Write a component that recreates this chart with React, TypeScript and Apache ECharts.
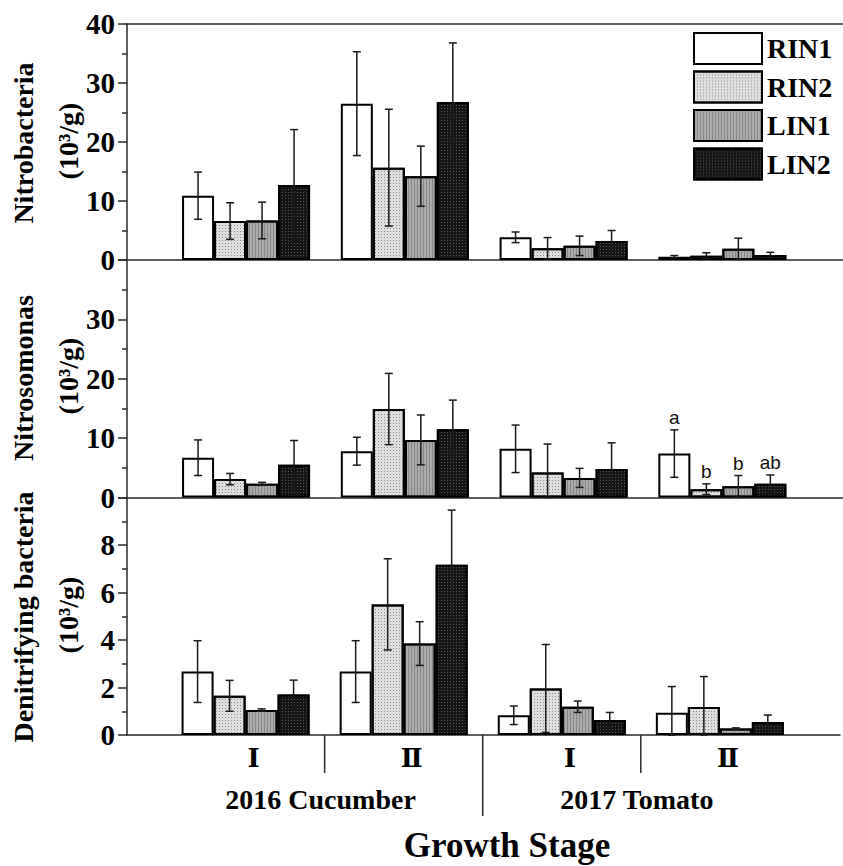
import React, { useEffect, useRef } from 'react';
import * as echarts from 'echarts';

// ---------- data ----------
const treatments = ['RIN1', 'RIN2', 'LIN1', 'LIN2'];
const stagePositions = [1, 2, 3, 4];
const stageLabels = ['Ⅰ', 'Ⅱ', 'Ⅰ', 'Ⅱ'];
const cropLabels = ['2016 Cucumber', '2017 Tomato'];
const cropCenters = [1.5, 3.5];
const separators = [1.5, 2.5, 3.5];

// Nitrobacteria (10^3/g)
const nbRIN1 = [10.9, 26.5, 3.85, 0.56];
const nbRIN2 = [6.6, 15.65, 2.0, 0.73];
const nbLIN1 = [6.7, 14.2, 2.4, 1.9];
const nbLIN2 = [12.7, 26.8, 3.2, 0.85];
const nbRIN1Err = [4.0, 8.8, 0.9, 0.2];
const nbRIN2Err = [3.1, 9.9, 1.8, 0.5];
const nbLIN1Err = [3.1, 5.1, 1.65, 1.8];
const nbLIN2Err = [9.4, 10.0, 1.8, 0.45];

// Nitrosomonas (10^3/g)
const nsRIN1 = [6.7, 7.8, 8.2, 7.4];
const nsRIN2 = [3.1, 14.9, 4.2, 1.4];
const nsLIN1 = [2.3, 9.7, 3.3, 1.9];
const nsLIN2 = [5.5, 11.5, 4.8, 2.3];
const nsRIN1Err = [3.0, 2.35, 4.0, 4.0];
const nsRIN2Err = [0.95, 6.0, 4.8, 0.9];
const nsLIN1Err = [0.25, 4.2, 1.6, 1.8];
const nsLIN2Err = [4.1, 4.9, 4.4, 1.5];
const nsLetters = ['a', 'b', 'b', 'ab']; // significance letters, stage II tomato

// Denitrifying bacteria (10^3/g)
const dnRIN1 = [2.67, 2.67, 0.83, 0.94];
const dnRIN2 = [1.65, 5.5, 1.96, 1.18];
const dnLIN1 = [1.05, 3.85, 1.19, 0.27];
const dnLIN2 = [1.71, 7.17, 0.63, 0.55];
const dnRIN1Err = [1.3, 1.3, 0.39, 1.1];
const dnRIN2Err = [0.65, 1.92, 1.85, 1.28];
const dnLIN1Err = [0.05, 0.92, 0.24, 0.03];
const dnLIN2Err = [0.6, 2.3, 0.32, 0.29];

// ---------- style ----------
const SERIF = "'Liberation Serif', 'Times New Roman', serif";
const SANS = "'Liberation Sans', Arial, sans-serif";
const fills = ['#ffffff', '#dedede', '#ababab', '#151515'];
const decals: any[] = [
  null,
  { symbol: 'rect', symbolSize: 1, dashArrayX: [1, 2], dashArrayY: [1, 2], color: '#8c8c8c' },
  { symbol: 'rect', symbolSize: 1, dashArrayX: [1, 2], dashArrayY: [1, 0], color: '#868686' },
  { symbol: 'rect', symbolSize: 1, dashArrayX: [1, 2], dashArrayY: [1, 2], color: '#555555' },
];
const BAR_W = 32;
const LINE = '#2a2a2a';

const panels = [
  {
    title: 'Nitrobacteria', mean: [nbRIN1, nbRIN2, nbLIN1, nbLIN2], err: [nbRIN1Err, nbRIN2Err, nbLIN1Err, nbLIN2Err],
    max: 40, interval: 10, top: 24, height: 236, showMax: true, cy: 143,
  },
  {
    title: 'Nitrosomonas', mean: [nsRIN1, nsRIN2, nsLIN1, nsLIN2], err: [nsRIN1Err, nsRIN2Err, nsLIN1Err, nsLIN2Err],
    max: 40, interval: 10, top: 260, height: 237.5, showMax: false, cy: 378,
  },
  {
    title: 'Denitrifying bacteria', mean: [dnRIN1, dnRIN2, dnLIN1, dnLIN2], err: [dnRIN1Err, dnRIN2Err, dnLIN1Err, dnLIN2Err],
    max: 10, interval: 2, top: 497.5, height: 237.5, showMax: false, cy: 617,
  },
];

function buildOption() {
  const grid = panels.map((p) => ({ left: 127, right: -3, top: p.top, height: p.height }));

  const xAxis: any[] = panels.map((p, i) => ({
    type: 'value', gridIndex: i, min: 0.25, max: 4.76, interval: 0.25, position: 'bottom',
    axisLine: { show: true, onZero: false, lineStyle: { color: LINE, width: 1.5 } },
    axisTick: { show: false }, splitLine: { show: false },
    axisLabel: i === 2 ? {
      show: true, margin: 10,
      formatter: (v: number) => {
        const idx = stagePositions.indexOf(v);
        return idx >= 0 ? `{r|${stageLabels[idx]}}` : '';
      },
      rich: { r: { fontFamily: "'DejaVu Serif', serif", fontWeight: 'bold', fontSize: 26, color: '#000', padding: [0, 0, 0, 16] } },
    } : { show: false },
  }));
  // top frame line of the upper panel
  xAxis.push({
    type: 'value', gridIndex: 0, min: 0.25, max: 4.76, interval: 0.25, position: 'top',
    axisLine: { show: true, onZero: false, lineStyle: { color: LINE, width: 1.5 } },
    axisTick: { show: false }, splitLine: { show: false }, axisLabel: { show: false },
  });

  const yAxis = panels.map((p, i) => ({
    type: 'value', gridIndex: i, min: 0, max: p.max, interval: p.interval,
    axisLine: { show: true, lineStyle: { color: LINE, width: 1.5 } },
    axisTick: { show: true, inside: false, length: 9, lineStyle: { color: LINE, width: 1.5 } },
    minorTick: { show: true, splitNumber: 2, length: 5, lineStyle: { color: LINE, width: 1.5 } },
    splitLine: { show: false }, minorSplitLine: { show: false },
    axisLabel: { margin: 12, fontFamily: SERIF, fontWeight: 'bold', fontSize: 29, color: '#000', showMaxLabel: p.showMax },
  }));

  const series: any[] = [];
  panels.forEach((p, i) => {
    treatments.forEach((t, k) => {
      const itemStyle: any = { color: fills[k], borderColor: '#000', borderWidth: 2 };
      if (decals[k]) itemStyle.decal = decals[k];
      series.push({
        type: 'bar', name: t, xAxisIndex: i, yAxisIndex: i,
        data: stagePositions.map((x, j) => [x, p.mean[k][j]]),
        barWidth: BAR_W, barGap: '0%',
        itemStyle,
        silent: true,
      });
    });
    const rows: number[][] = [];
    treatments.forEach((t, k) => {
      stagePositions.forEach((x, j) => rows.push([x, k, p.mean[k][j], p.err[k][j]]));
    });
    series.push({
      type: 'custom', name: 'err' + i, xAxisIndex: i, yAxisIndex: i, z: 5, clip: false, silent: true,
      encode: { x: 0, y: 2 },
      data: rows,
      renderItem: (params: any, api: any) => {
        const x = api.value(0), k = api.value(1), m = api.value(2), e = api.value(3);
        const pt = api.coord([x, m + e]);
        const pb = api.coord([x, Math.max(m - e, 0)]);
        const cx = pt[0] + (k - 1.5) * BAR_W;
        const style = { stroke: '#1a1a1a', lineWidth: 1.5 };
        return {
          type: 'group', children: [
            { type: 'line', shape: { x1: cx, y1: pt[1], x2: cx, y2: pb[1] }, style },
            { type: 'line', shape: { x1: cx - 4, y1: pt[1], x2: cx + 4, y2: pt[1] }, style },
            { type: 'line', shape: { x1: cx - 4, y1: pb[1], x2: cx + 4, y2: pb[1] }, style },
          ],
        };
      },
    });
  });

  // significance letters (Nitrosomonas, 2017 Tomato stage II)
  const p1 = panels[1];
  series.push({
    type: 'custom', name: 'letters', xAxisIndex: 1, yAxisIndex: 1, z: 6, clip: false, silent: true,
    encode: { x: 0, y: 2 },
    data: treatments.map((t, k) => [stagePositions[3], k, p1.mean[k][3], p1.err[k][3]]),
    renderItem: (params: any, api: any) => {
      const x = api.value(0), k = api.value(1), m = api.value(2), e = api.value(3);
      const pt = api.coord([x, m + e]);
      return {
        type: 'text',
        style: {
          text: nsLetters[params.dataIndex], x: pt[0] + (k - 1.5) * BAR_W, y: pt[1] - 3,
          align: 'center', verticalAlign: 'bottom', fontFamily: SANS, fontSize: 19, fill: '#111',
        },
      };
    },
  });

  // separators below the x axis
  series.push({
    type: 'custom', name: 'sep', xAxisIndex: 2, yAxisIndex: 2, z: 6, clip: false, silent: true,
    encode: { x: 0, y: 1 },
    data: separators.map((x) => [x, 0]),
    renderItem: (params: any, api: any) => {
      const p = api.coord([api.value(0), 0]);
      const len = params.dataIndex === 1 ? 81 : 38;
      return { type: 'line', shape: { x1: p[0], y1: p[1], x2: p[0], y2: p[1] + len }, style: { stroke: LINE, lineWidth: 1.5 } };
    },
  });

  // crop / year labels
  series.push({
    type: 'custom', name: 'crop', xAxisIndex: 2, yAxisIndex: 2, z: 6, clip: false, silent: true,
    encode: { x: 0, y: 1 },
    data: cropCenters.map((x) => [x, 0]),
    renderItem: (params: any, api: any) => {
      const p = api.coord([api.value(0), 0]);
      return {
        type: 'text',
        style: {
          text: cropLabels[params.dataIndex], x: p[0] - 4, y: p[1] + 64,
          align: 'center', verticalAlign: 'middle', fontFamily: SERIF, fontWeight: 'bold', fontSize: 28, fill: '#000',
        },
      };
    },
  });

  const graphic: any[] = [];
  panels.forEach((p) => {
    graphic.push({
      type: 'text', x: 23, y: p.cy, rotation: Math.PI / 2,
      style: { text: p.title, align: 'center', verticalAlign: 'middle', font: "bold 28px 'Liberation Serif', serif", fill: '#000' },
    });
    graphic.push({
      type: 'text', x: 68, y: p.cy - 2, rotation: Math.PI / 2,
      style: { text: '(10³/g)', align: 'center', verticalAlign: 'middle', font: "bold 28px 'Liberation Serif', serif", fill: '#000' },
    });
  });
  graphic.push({
    type: 'text', x: 507, y: 845,
    style: { text: 'Growth Stage', align: 'center', verticalAlign: 'middle', font: "bold 35px 'Liberation Serif', serif", fill: '#000' },
  });

  return {
    animation: false,
    backgroundColor: '#ffffff',
    grid, xAxis, yAxis, series, graphic,
    legend: {
      data: treatments, orient: 'vertical', left: 688, top: 27,
      itemWidth: 68, itemHeight: 31, itemGap: 5.5, icon: 'rect',
      selectedMode: false,
      textStyle: { fontFamily: SERIF, fontWeight: 'bold', fontSize: 28, color: '#000' },
    },
  };
}

export default function App() {
  const ref = useRef<HTMLDivElement>(null);
  useEffect(() => {
    if (!ref.current) return;
    const chart = echarts.init(ref.current, undefined, { renderer: 'svg' });
    chart.setOption(buildOption() as any);
    return () => chart.dispose();
  }, []);
  return <div ref={ref} style={{ position: 'absolute', left: 0, top: 0, width: 843, height: 866 }} />;
}
